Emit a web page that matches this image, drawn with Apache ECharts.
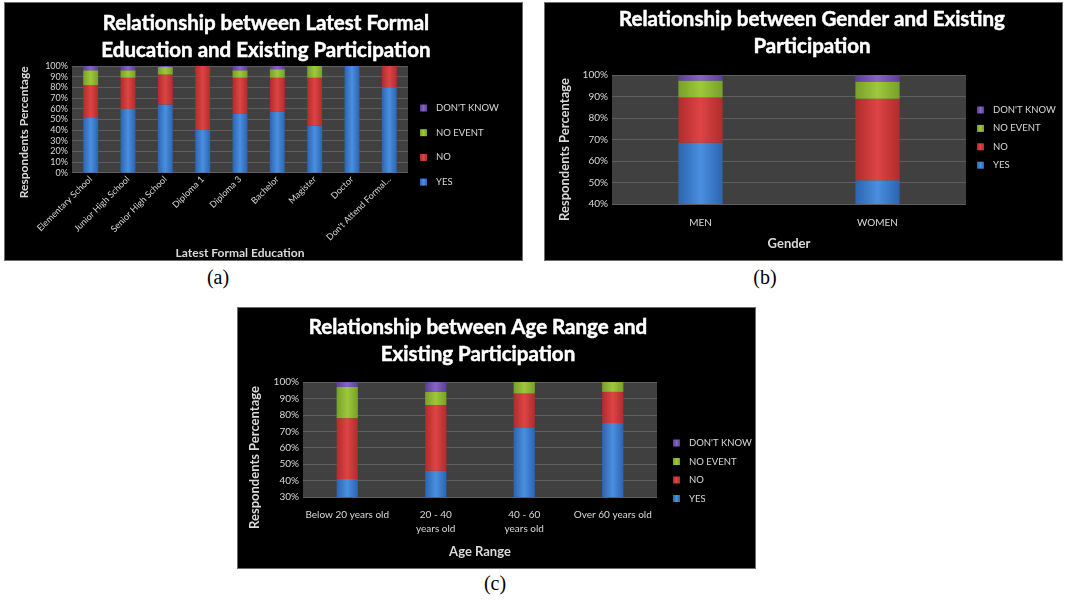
<!DOCTYPE html>
<html>
<head>
<meta charset="utf-8">
<script src="https://cdn.jsdelivr.net/npm/echarts@6/dist/echarts.min.js"></script>
<style>
  html, body { margin: 0; padding: 0; background: #fff; }
  body { width: 1066px; height: 601px; position: relative; overflow: hidden; }
  .panel { position: absolute; background: #000; box-sizing: border-box; border: 1px solid #6e6e6e; }
  .cap { position: absolute; font-family: "Liberation Serif", serif; font-size: 20px; color: #000; transform: translateX(-50%); }
</style>
</head>
<body>
<div id="pa" class="panel" style="left:4px;top:2px;width:519px;height:259px"></div>
<div id="pb" class="panel" style="left:544px;top:2px;width:519px;height:259px"></div>
<div id="pc" class="panel" style="left:237px;top:307px;width:519px;height:262px"></div>
<div class="cap" style="left:218px;top:266px">(a)</div>
<div class="cap" style="left:765px;top:266px">(b)</div>
<div class="cap" style="left:495px;top:572px">(c)</div>
<script>
// Participation answers, stacked bottom to top
const answers = ['YES', 'NO', 'NO EVENT', "DON'T KNOW"];
const legendOrder = ["DON'T KNOW", 'NO EVENT', 'NO', 'YES'];

// (a) Latest formal education
const eduCategories = ['Elementary School', 'Junior High School', 'Senior High School', 'Diploma 1',
  'Diploma 3', 'Bachelor', 'Magister', 'Doctor', "Don't Attend Formal..."];
const eduYes       = [52, 60, 64, 40, 55, 57, 44, 100, 80];
const eduNo        = [30, 29, 28, 60, 34, 32, 45, 0, 20];
const eduNoEvent   = [14, 7, 7, 0, 7, 8, 11, 0, 0];
const eduDontKnow  = [4, 4, 1, 0, 4, 3, 0, 0, 0];

// (b) Gender
const genderCategories = ['MEN', 'WOMEN'];
const genderYes      = [68.5, 51];
const genderNo       = [21, 38];
const genderNoEvent  = [8, 8];
const genderDontKnow = [2.5, 3];

// (c) Age range
const ageCategories = ['Below 20 years old', '20 - 40\nyears old', '40 - 60\nyears old', 'Over 60 years old'];
const ageYes      = [41, 46, 72, 75];
const ageNo       = [37, 40, 21, 19];
const ageNoEvent  = [19, 8, 7, 6];
const ageDontKnow = [3, 6, 0, 0];

// Bar fills: darker edges, lighter middle
const palette = {
  'YES':        ['#2c64b0', '#4a8fe0', '#2c64b0'],
  'NO':         ['#b02c2c', '#de4444', '#b02c2c'],
  'NO EVENT':   ['#77a02a', '#9dc83c', '#77a02a'],
  "DON'T KNOW": ['#5e3f94', '#8763c6', '#5e3f94']
};
function fill(name) {
  const c = palette[name];
  return new echarts.graphic.LinearGradient(0, 0, 1, 0, [
    { offset: 0, color: c[0] }, { offset: 0.5, color: c[1] }, { offset: 1, color: c[2] }
  ]);
}

const FONT = 'Lato';
const LIGHT = '#d9d9d9';

function build(el, cfg) {
  const chart = echarts.init(document.getElementById(el), null, { renderer: 'canvas' });
  const series = answers.map((name, i) => ({
    name: name,
    type: 'bar',
    stack: 'total',
    barWidth: cfg.barWidth,
    data: cfg.values[i],
    itemStyle: { color: fill(name) },
    emphasis: { disabled: true }
  }));
  chart.setOption({
    animation: false,
    backgroundColor: '#000',
    textStyle: { fontFamily: FONT },
    title: {
      text: cfg.title,
      left: cfg.titleX,
      top: cfg.titleTop,
      textAlign: 'center',
      textStyle: {
        color: '#fff', fontFamily: FONT, fontWeight: 'bold', fontSize: 20.5, lineHeight: 27,
        textBorderColor: '#fff', textBorderWidth: 0.5
      }
    },
    legend: {
      orient: 'vertical',
      left: cfg.legendLeft,
      top: cfg.legendTop,
      itemWidth: 7,
      itemHeight: 7,
      itemGap: cfg.legendGap,
      icon: 'rect',
      data: legendOrder,
      selectedMode: false,
      textStyle: { color: LIGHT, fontSize: 9.5, fontFamily: FONT, padding: [0, 0, 0, 4] }
    },
    grid: {
      left: cfg.grid[0], top: cfg.grid[1], width: cfg.grid[2], height: cfg.grid[3],
      show: true, backgroundColor: '#404040', borderWidth: 0
    },
    xAxis: {
      type: 'category',
      data: cfg.categories,
      axisLine: { show: false },
      axisTick: { show: false },
      axisLabel: {
        color: LIGHT, fontSize: cfg.xLabelSize, rotate: cfg.xRotate, margin: cfg.xMargin,
        lineHeight: 14, interval: 0
      },
      name: cfg.xName,
      nameLocation: 'middle',
      nameGap: cfg.xNameGap,
      nameTextStyle: { color: LIGHT, fontWeight: 'bold', fontSize: cfg.nameSize, fontFamily: FONT }
    },
    yAxis: {
      type: 'value',
      min: cfg.yMin,
      max: 100,
      interval: 10,
      axisLine: { show: false },
      axisTick: { show: false },
      splitLine: { lineStyle: { color: '#5e5e5e', width: 1 } },
      axisLabel: { color: LIGHT, fontSize: cfg.yLabelSize, margin: 4, formatter: '{value}%' },
      name: 'Respondents Percentage',
      nameLocation: 'middle',
      nameRotate: 90,
      nameGap: cfg.yNameGap,
      nameTextStyle: {
        color: LIGHT, fontWeight: 'bold', fontSize: cfg.nameSize, fontFamily: FONT,
        padding: cfg.yNamePad
      }
    },
    series: series
  });
}

build('pa', {
  title: 'Relationship between Latest Formal\nEducation and Existing Participation',
  titleX: 256, titleTop: 2,
  categories: eduCategories,
  values: [eduYes, eduNo, eduNoEvent, eduDontKnow],
  grid: [67, 63, 336, 108],
  barWidth: '40%',
  yMin: 0,
  legendLeft: 410, legendTop: 95, legendGap: 14.7,
  xLabelSize: 9, xRotate: 45, xMargin: 5,
  xName: 'Latest Formal Education', xNameGap: 63,
  yLabelSize: 9, nameSize: 12, yNameGap: 42, yNamePad: [0, 26, 0, 0]
});

build('pb', {
  title: 'Relationship between Gender and Existing\nParticipation',
  titleX: 262, titleTop: -2,
  categories: genderCategories,
  values: [genderYes, genderNo, genderNoEvent, genderDontKnow],
  grid: [67, 72, 354, 129],
  barWidth: '25%',
  yMin: 40,
  legendLeft: 427, legendTop: 97, legendGap: 8.4,
  xLabelSize: 10, xRotate: 0, xMargin: 12,
  xName: 'Gender', xNameGap: 33,
  yLabelSize: 10, nameSize: 13, yNameGap: 40, yNamePad: [0, 20, 0, 0]
});

build('pc', {
  title: 'Relationship between Age Range and\nExisting Participation',
  titleX: 235, titleTop: 1,
  categories: ageCategories,
  values: [ageYes, ageNo, ageNoEvent, ageDontKnow],
  grid: [65, 74, 354, 115],
  barWidth: '24%',
  yMin: 30,
  legendLeft: 430, legendTop: 125, legendGap: 8.5,
  xLabelSize: 10, xRotate: 0, xMargin: 11,
  xName: 'Age Range', xNameGap: 48,
  yLabelSize: 10, nameSize: 13, yNameGap: 42, yNamePad: [0, 36, 0, 0]
});
</script>
</body>
</html>
